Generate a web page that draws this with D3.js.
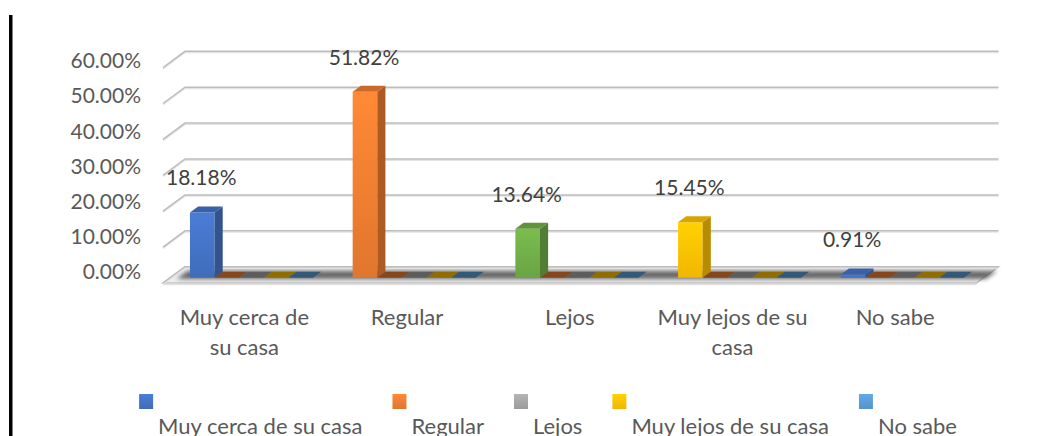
<html>

<head>
    <title> Distancia </title>
    <script src="https://cdn.jsdelivr.net/npm/d3@7"></script>
    <style type="text/css">
        body {
            margin: 0;
            background: #fff;
        }

        text {
            font-family: Lato, "Open Sans", sans-serif;
        }

        .axis path,
        .axis line {
            display: none;
        }

        .axis text {
            font-size: 21px;
            fill: #595959;
        }
    </style>
</head>

<body>
    <script type="text/javascript">
        var w = 1058;
        var h = 436;

        // data
        var categories = ["Muy cerca de su casa", "Regular", "Lejos", "Muy lejos de su casa", "No sabe"];
        var categoryLines = [["Muy cerca de", "su casa"], ["Regular"], ["Lejos"], ["Muy lejos de su", "casa"], ["No sabe"]];
        var seriesNames = ["Muy cerca de su casa", "Regular", "Lejos", "Muy lejos de su casa", "No sabe"];
        var seriesColors = ["#4472c4", "#ed7d31", "#a5a5a5", "#ffc000", "#5b9bd5"];
        // first series carries the values (one colour per point), the others are empty
        var mainValues = [0.1818, 0.5182, 0.1364, 0.1545, 0.0091];
        var pointColors = ["#4472c4", "#ed7d31", "#70ad47", "#ffc000", "#4472c4"];
        var emptyValues = [0, 0, 0, 0, 0];
        var yTicks = [0, 0.1, 0.2, 0.3, 0.4, 0.5, 0.6];

        // 3d geometry
        var DX = 22, DY = 16.3;
        var barDepth0 = 0.325, barDepth = 0.37;

        var svg = d3.select("body")
            .append("svg")
            .attr("width", w)
            .attr("height", h);

        var defs = svg.append("defs");
        defs.append("filter")
            .attr("id", "blur")
            .attr("x", "-10%").attr("y", "-100%")
            .attr("width", "120%").attr("height", "300%")
            .append("feGaussianBlur")
            .attr("stdDeviation", 2.2);

        function gradId(c) {
            return "g" + c.replace("#", "");
        }
        var allColors = Array.from(new Set(seriesColors.concat(pointColors)));
        allColors.forEach(function(c) {
            var g = defs.append("linearGradient")
                .attr("id", gradId(c))
                .attr("x1", 0).attr("y1", 0).attr("x2", 0).attr("y2", 1);
            g.append("stop").attr("offset", "0%").attr("stop-color", d3.color(c).brighter(0.25));
            g.append("stop").attr("offset", "100%").attr("stop-color", d3.color(c).darker(0.15));
        });

        // left border line
        svg.append("rect")
            .attr("x", 9)
            .attr("y", 15)
            .attr("width", 3.5)
            .attr("height", h - 15)
            .attr("fill", "#000");

        var x = d3.scaleBand()
            .domain(categories)
            .range([163, 976.5]);

        var xs = d3.scaleBand()
            .domain(seriesNames)
            .range([0, x.bandwidth()])
            .paddingInner(0)
            .paddingOuter(0.805);

        var yFront = d3.scaleLinear()
            .domain([0, 0.6])
            .range([283, 67.6]);

        var yLabel = d3.scaleLinear()
            .domain([0, 0.6])
            .range([272, 61]);

        function pt(px, v, f) {
            return [px + DX * f, yFront(v) - DY * f];
        }

        // floor
        var x0 = x.range()[0], x1 = x.range()[1];
        svg.append("polygon")
            .attr("points", [pt(x0, 0, 0), pt(x1, 0, 0), pt(x1, 0, 1), pt(x0, 0, 1)].join(" "))
            .attr("fill", "#eeeeee")
            .attr("stroke", "#c4c4c4")
            .attr("stroke-width", 1.5);
        svg.append("line")
            .attr("x1", x0).attr("x2", x1)
            .attr("y1", yFront(0) + 1.5).attr("y2", yFront(0) + 1.5)
            .attr("stroke", "#e2e2e2")
            .attr("stroke-width", 1.5);
        // floor shadow under bars
        svg.append("polygon")
            .attr("points", [pt(x0 + 8, 0, 0.25), pt(x1 + 4, 0, 0.25), pt(x1 + 4, 0, 0.75), pt(x0 + 8, 0, 0.75)].join(" "))
            .attr("fill", "#3a3a3a")
            .attr("opacity", 0.75)
            .attr("filter", "url(#blur)");

        // gridlines on the back wall
        var grid = svg.append("g");
        yTicks.forEach(function(v) {
            var pts = [pt(x0, v, 0), pt(x0, v, 1), pt(x1, v, 1)];
            grid.append("polyline")
                .attr("points", pts.map(function(p) { return [p[0], p[1] + 1.2]; }).join(" "))
                .attr("fill", "none")
                .attr("stroke", "#e3e3e3")
                .attr("stroke-width", 1.5);
            grid.append("polyline")
                .attr("points", pts.join(" "))
                .attr("fill", "none")
                .attr("stroke", "#bdbdbd")
                .attr("stroke-width", 1.5);
        });

        // y axis labels
        svg.append("g")
            .attr("class", "axis")
            .attr("transform", "translate(141,0)")
            .call(d3.axisLeft(yLabel)
                .tickValues(yTicks)
                .tickSize(0)
                .tickPadding(0)
                .tickFormat(d3.format(".2%")));

        // bars: series 0 has the values, series 1-4 are zero
        var bars = [];
        categories.forEach(function(c, ci) {
            seriesNames.forEach(function(s, si) {
                bars.push({
                    cat: c,
                    ser: s,
                    value: si === 0 ? mainValues[ci] : emptyValues[ci],
                    color: si === 0 ? pointColors[ci] : seriesColors[si]
                });
            });
        });

        var barG = svg.append("g");
        bars.forEach(function(d) {
            var bx0 = x(d.cat) + xs(d.ser);
            var bx1 = bx0 + xs.bandwidth();
            var c = d3.color(d.color);
            var fa = barDepth0, fb = barDepth0 + barDepth;
            var g = barG.append("g");
            if (d.value > 0) {
                g.append("polygon")
                    .attr("points", [pt(bx0, d.value, fa), pt(bx1, d.value, fa), pt(bx1, 0, fa), pt(bx0, 0, fa)].join(" "))
                    .attr("fill", "url(#" + gradId(d.color) + ")");
                g.append("polygon")
                    .attr("points", [pt(bx1, d.value, fa), pt(bx1, d.value, fb), pt(bx1, 0, fb), pt(bx1, 0, fa)].join(" "))
                    .attr("fill", c.darker(0.9));
            }
            g.append("polygon")
                .attr("points", [pt(bx0, d.value, fa), pt(bx1, d.value, fa), pt(bx1, d.value, fb), pt(bx0, d.value, fb)].join(" "))
                .attr("fill", d.value > 0 ? c.darker(0.45) : c.darker(1.6));
        });

        // data labels
        bars.filter(function(d) { return d.value > 0; }).forEach(function(d) {
            var p = pt(x(d.cat) + xs(d.ser) + xs.bandwidth() / 2, d.value, barDepth0);
            svg.append("text")
                .attr("x", p[0] - 1)
                .attr("y", p[1] - 27)
                .attr("text-anchor", "middle")
                .attr("font-size", "21px")
                .attr("fill", "#404040")
                .text(d3.format(".2%")(d.value));
        });

        // category labels
        var catG = svg.append("g");
        categories.forEach(function(c, i) {
            var t = catG.append("text")
                .attr("text-anchor", "middle")
                .attr("font-size", "22px")
                .attr("fill", "#595959");
            categoryLines[i].forEach(function(line, j) {
                t.append("tspan")
                    .attr("x", x(c) + x.bandwidth() / 2)
                    .attr("y", 325 + j * 30)
                    .text(line);
            });
        });

        // legend: square on top, name below
        var legend = svg.append("g");
        var items = seriesNames.map(function(s, i) {
            var t = legend.append("text")
                .attr("font-size", "22px")
                .attr("fill", "#595959")
                .attr("y", 434)
                .text(s);
            return { t: t, w: t.node().getComputedTextLength(), color: seriesColors[i] };
        });
        var gap = 30;
        var total = d3.sum(items, function(d) { return 19 + d.w; }) + gap * (items.length - 1);
        var lx = 548 - total / 2;
        items.forEach(function(d) {
            legend.append("rect")
                .attr("x", lx)
                .attr("y", 394)
                .attr("width", 14)
                .attr("height", 15)
                .attr("fill", "url(#" + gradId(d.color) + ")");
            d.t.attr("x", lx + 19);
            lx += 19 + d.w + gap;
        });
    </script>

</body>

</html>
